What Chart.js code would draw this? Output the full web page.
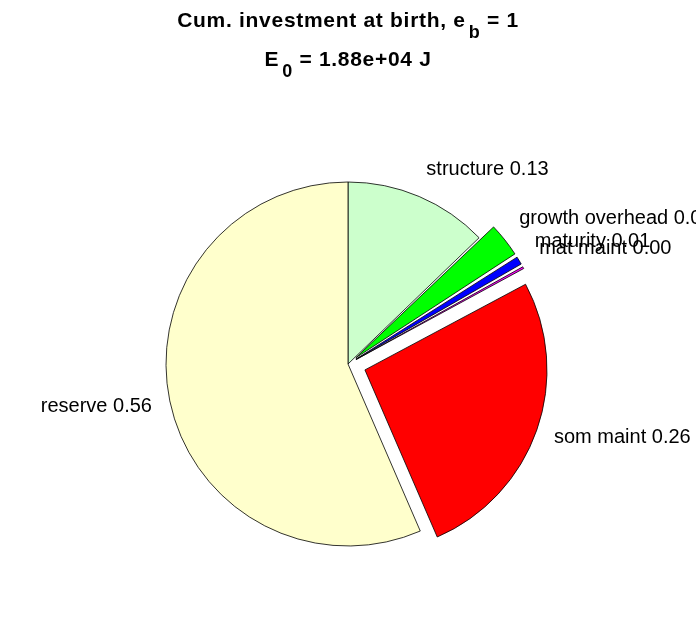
<!DOCTYPE html>
<html>
<head>
<meta charset="utf-8">
<script src="https://cdn.jsdelivr.net/npm/chart.js@4"></script>
<style>
  body { margin: 0; background: #fff; }
  #wrap { width: 696px; height: 618px; }
</style>
</head>
<body>
<div id="wrap"><canvas id="pie_chart"></canvas></div>
<script>
// slices, clockwise from 12 o'clock
const labels = ["structure", "growth overhead", "maturity", "mat maint", "som maint", "reserve"];
const fractions = [0.128, 0.031, 0.009, 0.004, 0.263, 0.565];
const colors = ["#CCFFCC", "#00FF00", "#0000FF", "#FF00FF", "#FF0000", "#FFFFCC"];
const exploded = [false, true, true, true, true, false];

const titleLine1 = [{ t: "Cum. investment at birth, e" }, { t: "b", sub: true }, { t: " = 1" }];
const titleLine2 = [{ t: "E" }, { t: "0", sub: true }, { t: " = 1.88e+04 J" }];

const R = 182;
const explodeShift = 18;

// chart.js moves an arc by offset/4 * (2 - sin(circumference)), so undo that
const total = fractions.reduce((a, b) => a + b, 0);
const offsets = fractions.map((f, i) => {
  if (!exploded[i]) return 0;
  const circ = (f / total) * 2 * Math.PI;
  const fix = 1 - Math.sin(Math.min(Math.PI, circ));
  return (4 * explodeShift) / (1 + fix);
});

function drawRich(ctx, parts, cx, baseline) {
  const mainFont = "bold 21px 'Liberation Sans', Arial, sans-serif";
  const subFont = "bold 18px 'Liberation Sans', Arial, sans-serif";
  ctx.letterSpacing = "0.7px";
  let w = 0;
  parts.forEach((p) => {
    ctx.font = p.sub ? subFont : mainFont;
    w += ctx.measureText(p.t).width + (p.sub ? 3 : 0);
  });
  let x = cx - w / 2;
  ctx.textAlign = "left";
  ctx.textBaseline = "alphabetic";
  parts.forEach((p) => {
    ctx.font = p.sub ? subFont : mainFont;
    if (p.sub) x += 3;
    ctx.fillText(p.t, x, p.sub ? baseline + 11 : baseline);
    x += ctx.measureText(p.t).width;
  });
  ctx.letterSpacing = "0px";
}

const pieLabels = {
  id: "pieLabels",
  afterDatasetsDraw(chart) {
    const ctx = chart.ctx;
    const meta = chart.getDatasetMeta(0);
    ctx.save();
    ctx.fillStyle = "#000";
    ctx.font = "20px 'Liberation Sans', Arial, sans-serif";
    meta.data.forEach((arc, i) => {
      const p = arc.getProps(["x", "y", "startAngle", "endAngle", "outerRadius"], true);
      const mid = (p.startAngle + p.endAngle) / 2;
      const dist = 1.1 * p.outerRadius + (exploded[i] ? explodeShift : 0);
      const tx = p.x + Math.cos(mid) * dist;
      let ty = p.y + Math.sin(mid) * dist;
      ctx.textAlign = Math.cos(mid) >= 0 ? "left" : "right";
      if (Math.sin(mid) < 0) {
        ctx.textBaseline = "bottom";
      } else {
        ctx.textBaseline = "middle";
        ty += 2;
      }
      ctx.fillText(labels[i] + " " + fractions[i].toFixed(2), tx, ty);
    });
    ctx.restore();
  },
  afterDraw(chart) {
    const ctx = chart.ctx;
    ctx.save();
    ctx.fillStyle = "#000";
    drawRich(ctx, titleLine1, 348, 27);
    drawRich(ctx, titleLine2, 348, 66);
    ctx.restore();
  },
};

const ctx = document.getElementById("pie_chart").getContext("2d");
new Chart(ctx, {
  type: "pie",
  data: {
    labels: labels,
    datasets: [
      {
        data: fractions,
        backgroundColor: colors,
        borderColor: "#000",
        borderWidth: 0.8,
        offset: offsets,
        hoverOffset: 0,
      },
    ],
  },
  options: {
    responsive: true,
    maintainAspectRatio: false,
    animation: false,
    radius: R,
    layout: { padding: { top: 120, bottom: 10, left: 0, right: 0 } },
    plugins: {
      legend: { display: false },
      title: { display: false },
      tooltip: { enabled: false },
    },
  },
  plugins: [pieLabels],
});
</script>
</body>
</html>
